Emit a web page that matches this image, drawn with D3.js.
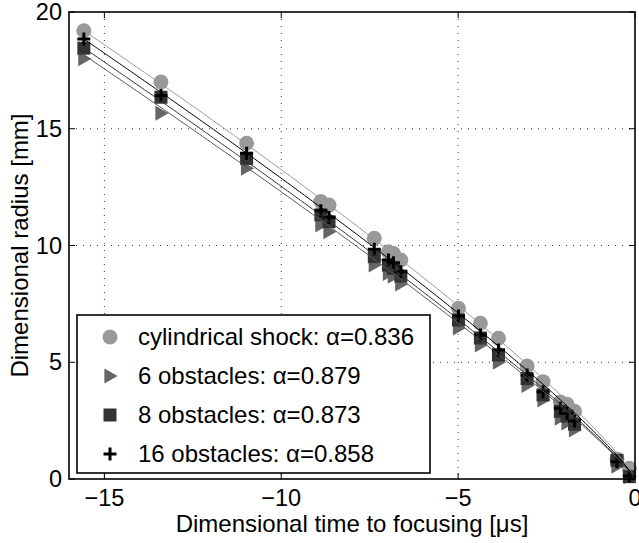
<!DOCTYPE html>
<html>
<head>
<meta charset="utf-8">
<script src="https://cdn.jsdelivr.net/npm/d3@7"></script>
<style>
  html, body { margin: 0; padding: 0; background: #fff; }
  svg { display: block; font-family: "Liberation Sans", Arial, Helvetica, sans-serif; }
</style>
</head>
<body>
<svg id="chart" width="639" height="543"></svg>
<script>
// ---- data ----
const times = [-15.58, -13.40, -10.98, -8.88, -8.65, -7.37, -6.97, -6.83, -6.62, -4.99, -4.37, -3.86, -3.05, -2.60, -2.11, -1.92, -1.71, -0.51, -0.16];
const cylindrical = [19.20, 17.00, 14.38, 11.88, 11.73, 10.31, 9.73, 9.66, 9.38, 7.31, 6.67, 6.03, 4.84, 4.17, 3.30, 3.20, 2.90, 0.85, 0.46];
const obstacles6  = [18.00, 15.66, 13.31, 10.88, 10.59, 9.16, 8.80, 8.68, 8.35, 6.47, 5.74, 5.00, 4.00, 3.38, 2.60, 2.40, 2.10, 0.55, 0.10];
const obstacles8  = [18.45, 16.35, 13.73, 11.31, 11.02, 9.52, 9.16, 9.02, 8.69, 6.81, 6.04, 5.31, 4.30, 3.60, 2.90, 2.70, 2.35, 0.80, 0.10];
const obstacles16 = [18.84, 16.42, 13.95, 11.49, 11.20, 9.84, 9.38, 9.26, 8.88, 6.98, 6.17, 5.52, 4.45, 3.74, 3.03, 2.81, 2.48, 0.74, 0.13];
const seriesNames = ["cylindrical shock: \u03b1=0.836", "6 obstacles: \u03b1=0.879", "8 obstacles: \u03b1=0.873", "16 obstacles: \u03b1=0.858"];
const alphas = [0.836, 0.879, 0.873, 0.858];
const prefactors = [1.933, 1.625, 1.679, 1.786];
const xTicks = [-15, -10, -5, 0];
const yTicks = [0, 5, 10, 15, 20];

// ---- layout ----
const svg = d3.select("#chart");
const L = 69, R = 635, T = 12, B = 479;
const x = d3.scaleLinear().domain([-16, 0]).range([L, R]);
const y = d3.scaleLinear().domain([0, 20]).range([B, T]);

const seriesData = [cylindrical, obstacles6, obstacles8, obstacles16];
const markerFill = ["#999999", "#666666", "#333333", "#000000"];
const lineColor = ["#999999", "#555555", "#333333", "#000000"];

// grid
const grid = svg.append("g");
xTicks.filter(t => t > -16 && t < 0).forEach(t => {
  grid.append("line").attr("x1", x(t)).attr("x2", x(t)).attr("y1", T).attr("y2", B)
    .attr("stroke", "#333").attr("stroke-width", 1).attr("stroke-dasharray", "1,6");
});
yTicks.filter(t => t > 0 && t < 20).forEach(t => {
  grid.append("line").attr("x1", L).attr("x2", R).attr("y1", y(t)).attr("y2", y(t))
    .attr("stroke", "#333").attr("stroke-width", 1).attr("stroke-dasharray", "1,6");
});

// markers
function drawMarker(g, kind, cx, cy) {
  if (kind === 0) {
    g.append("circle").attr("cx", cx).attr("cy", cy).attr("r", 7.5).attr("fill", markerFill[0]);
  } else if (kind === 1) {
    const s = 7.5;
    g.append("path").attr("d", `M${cx + s},${cy} L${cx - s * 0.75},${cy - s} L${cx - s * 0.75},${cy + s} Z`)
      .attr("fill", markerFill[1]);
  } else if (kind === 2) {
    const s = 6.5;
    g.append("rect").attr("x", cx - s).attr("y", cy - s).attr("width", 2 * s).attr("height", 2 * s)
      .attr("fill", markerFill[2]);
  } else {
    const s = 6.5;
    g.append("path").attr("d", `M${cx - s},${cy} L${cx + s},${cy} M${cx},${cy - s} L${cx},${cy + s}`)
      .attr("stroke", "#000").attr("stroke-width", 3).attr("fill", "none");
  }
}

const marks = svg.append("g");
[0, 1, 2, 3].forEach(k => {
  seriesData[k].forEach((v, i) => drawMarker(marks, k, x(times[i]), y(v)));
});

// fit lines
const line = d3.line().x(d => x(d[0])).y(d => y(d[1]));
const tStart = d3.min(times);
[0, 1, 2, 3].forEach(k => {
  const pts = d3.range(0, 201).map(j => {
    const t = tStart + (0 - tStart) * j / 200;
    return [t, prefactors[k] * Math.pow(Math.max(-t, 0), alphas[k])];
  });
  svg.append("path").attr("d", line(pts)).attr("fill", "none")
    .attr("stroke", lineColor[k]).attr("stroke-width", 1);
});

// axes box and ticks
const axisG = svg.append("g");
axisG.append("rect").attr("x", L).attr("y", T).attr("width", R - L).attr("height", B - T)
  .attr("fill", "none").attr("stroke", "#000").attr("stroke-width", 1.6);
const tl = 6;
xTicks.forEach(t => {
  axisG.append("line").attr("x1", x(t)).attr("x2", x(t)).attr("y1", B).attr("y2", B - tl).attr("stroke", "#000");
  axisG.append("line").attr("x1", x(t)).attr("x2", x(t)).attr("y1", T).attr("y2", T + tl).attr("stroke", "#000");
  axisG.append("text").attr("x", x(t)).attr("y", B + 27).attr("text-anchor", "middle")
    .attr("font-size", 23.5).text(t < 0 ? "\u2212" + Math.abs(t) : String(t));
});
yTicks.forEach(t => {
  axisG.append("line").attr("x1", L).attr("x2", L + tl).attr("y1", y(t)).attr("y2", y(t)).attr("stroke", "#000");
  axisG.append("line").attr("x1", R).attr("x2", R - tl).attr("y1", y(t)).attr("y2", y(t)).attr("stroke", "#000");
  axisG.append("text").attr("x", L - 7).attr("y", y(t) + 8).attr("text-anchor", "end")
    .attr("font-size", 23.5).text(String(t));
});

// axis labels
svg.append("text").attr("x", (L + R) / 2).attr("y", 532).attr("text-anchor", "middle")
  .attr("font-size", 24).text("Dimensional time to focusing [\u03bcs]");
svg.append("text").attr("transform", `translate(28,${(T + B) / 2}) rotate(-90)`)
  .attr("text-anchor", "middle").attr("font-size", 24).text("Dimensional radius [mm]");

// legend
const lg = svg.append("g");
lg.append("rect").attr("x", 77).attr("y", 315).attr("width", 353).attr("height", 158)
  .attr("fill", "#fff").attr("stroke", "#000").attr("stroke-width", 1.6);
const legY = [337, 376, 415, 454];
[0, 1, 2, 3].forEach(k => {
  drawMarker(lg, k, 110, legY[k]);
  lg.append("text").attr("x", 138).attr("y", legY[k] + 8).attr("font-size", 24).text(seriesNames[k]);
});
</script>
</body>
</html>
